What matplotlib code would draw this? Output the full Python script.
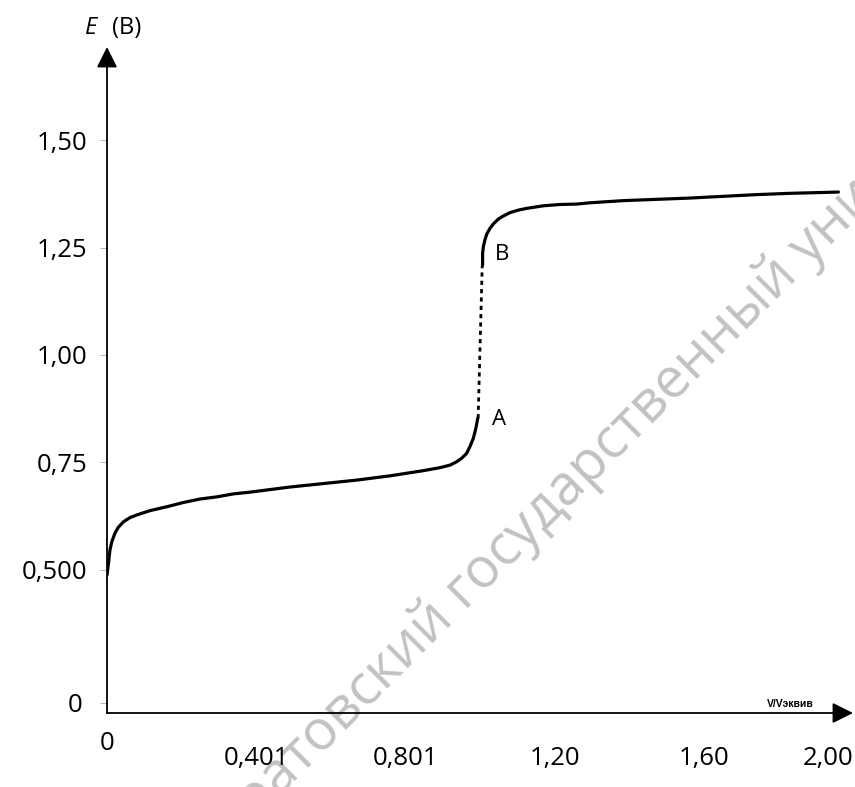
import matplotlib
matplotlib.use('Agg')
import matplotlib.pyplot as plt
from matplotlib.transforms import ScaledTranslation

plt.rcParams['font.family'] = ['Open Sans', 'DejaVu Sans']

# curve before equivalence (up to point A)
x_before = [0.0, 0.005, 0.008, 0.013, 0.021, 0.030, 0.044, 0.062, 0.080, 0.115,
            0.160, 0.205, 0.249, 0.294, 0.339, 0.383, 0.428, 0.473, 0.491, 0.580,
            0.669, 0.759, 0.848, 0.893, 0.920, 0.938, 0.951, 0.964, 0.973, 0.982,
            0.988, 0.994]
e_before = [0.488, 0.523, 0.547, 0.566, 0.585, 0.599, 0.612, 0.622, 0.628, 0.638,
            0.647, 0.657, 0.665, 0.670, 0.677, 0.681, 0.686, 0.691, 0.693, 0.701,
            0.709, 0.719, 0.731, 0.738, 0.744, 0.752, 0.760, 0.771, 0.787, 0.806,
            0.826, 0.853]
# jump A -> B (dashed)
x_jump = [0.995, 1.006]
e_jump = [0.853, 1.209]
# after equivalence (from point B)
x_after = [1.007, 1.007, 1.009, 1.013, 1.018, 1.027, 1.036, 1.049, 1.062, 1.080,
           1.103, 1.125, 1.170, 1.214, 1.259, 1.295, 1.384, 1.474, 1.563, 1.652,
           1.742, 1.831, 1.920, 1.961]
e_after = [1.209, 1.237, 1.252, 1.267, 1.281, 1.295, 1.305, 1.316, 1.323, 1.331,
           1.337, 1.341, 1.347, 1.350, 1.351, 1.354, 1.359, 1.362, 1.365, 1.369,
           1.373, 1.376, 1.378, 1.379]

y_ticks = [0.191, 0.5, 0.75, 1.0, 1.25, 1.5]
y_labels = ['0', '0,500', '0,75', '1,00', '1,25', '1,50']
x_ticks = [0.0, 0.401, 0.801, 1.20, 1.60, 2.00]
x_labels = ['0', '0,401', '0,801', '1,20', '1,60', '2,00']

fig = plt.figure(figsize=(8.55, 7.87), dpi=100)
ax = fig.add_axes([107/855, 1 - 713/787, 746/855, (713 - 47)/787])
ax.set_facecolor('none')

# watermark
fig.text(0.724, 0.445, 'Саратовский государственный университет', rotation=45,
         rotation_mode='anchor', ha='center', va='center', fontsize=40,
         color='#c2c2c2', zorder=-5)

ax.plot(x_before, e_before, color='black', lw=2.3, solid_capstyle='round')
ax.plot(x_jump, e_jump, color='black', lw=2.0, linestyle=(0, (1.5, 1.5)))
ax.plot(x_after, e_after, color='black', lw=2.3, solid_capstyle='round')

ax.text(1.051, 0.851, 'A', fontsize=16, ha='center', va='center')
ax.text(1.058, 1.233, 'B', fontsize=16, ha='center', va='center')

ax.set_xlim(0, 2.0)
ax.set_ylim(0.1674, 1.7163)

for s in ax.spines.values():
    s.set_visible(False)

# axes with arrow heads
arrow = dict(arrowstyle='-|>,head_length=0.9,head_width=0.45', color='black',
             lw=1.3, mutation_scale=14, shrinkA=0, shrinkB=0)
ax.annotate('', xy=(1.0, 0), xytext=(0, 0), xycoords='axes fraction', arrowprops=arrow)
ax.annotate('', xy=(0, 1.0), xytext=(0, 0), xycoords='axes fraction', arrowprops=arrow)

ax.set_yticks(y_ticks)
ax.set_yticklabels(y_labels)
ax.set_xticks(x_ticks)
ax.set_xticklabels(x_labels)
ax.tick_params(axis='y', length=5, width=0.6, color='#aaaaaa', pad=9, labelsize=18.5)
ax.tick_params(axis='x', length=0, pad=24, labelsize=18.5)

xl = ax.get_xticklabels()
xl[0].set_transform(xl[0].get_transform() + ScaledTranslation(0, 0.15, fig.dpi_scale_trans))
xl[-1].set_ha('right')
yl = ax.get_yticklabels()
yl[0].set_transform(yl[0].get_transform() + ScaledTranslation(-0.05, 0, fig.dpi_scale_trans))

# axis title E (B)
ax.text(91/855, 1 - 28/787, 'E', transform=fig.transFigure, fontsize=17,
        style='italic', ha='center', va='center')
ax.text(127/855, 1 - 28/787, '(B)', transform=fig.transFigure, fontsize=17,
        ha='center', va='center')
ax.text(0.9155, 0.014, 'V/Vэквив', transform=ax.transAxes, fontsize=7.5,
        fontweight='bold', ha='center', va='center', family=['Liberation Sans', 'DejaVu Sans'])

fig.savefig('out.png', dpi=100)
